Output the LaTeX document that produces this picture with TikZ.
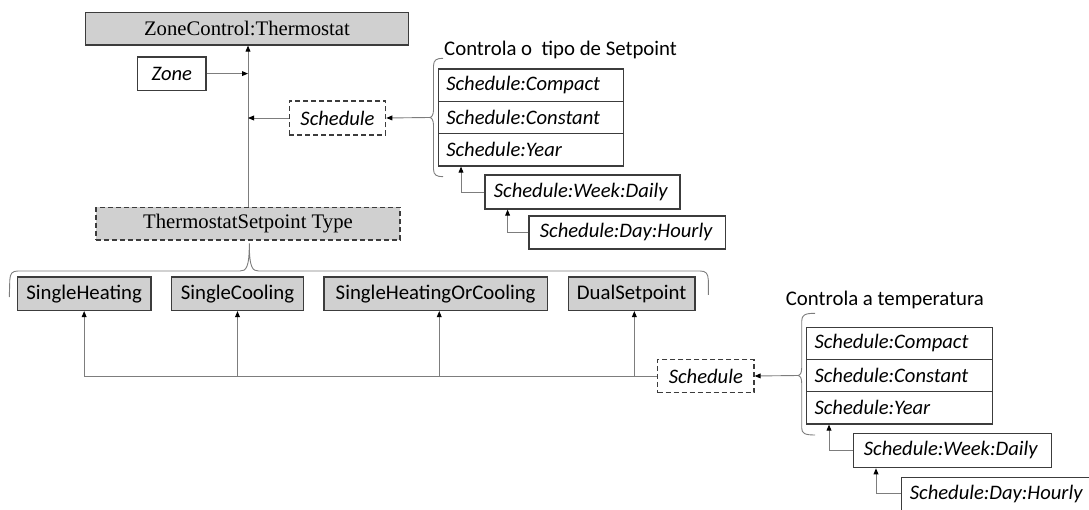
\documentclass[tikz,border=0pt]{standalone}
\usepackage{fontspec}
\setmainfont{Carlito}
\newfontfamily\serifface{Liberation Serif}
\usetikzlibrary{arrows.meta}
\definecolor{boxfill}{RGB}{208,208,208}
\definecolor{edge}{RGB}{60,60,60}
\definecolor{wire}{RGB}{125,125,125}

\begin{document}
\begin{tikzpicture}[x=1pt,y=-1pt,
  txt/.style={font=\fontsize{20.8}{24}\selectfont},
  base/.style={txt, draw=edge, line width=1.2pt, inner sep=0pt, text=black},
  graybox/.style={base, fill=boxfill},
  whitebox/.style={base, fill=white},
  dashbox/.style={dash pattern=on 5pt off 3pt},
  serifbox/.style={font=\serifface\fontsize{20.7}{24}\selectfont},
  itbox/.style={whitebox, font=\fontsize{20.6}{24}\selectfont\itshape},
  rowbox/.style={itbox, anchor=west, align=left},
  conn/.style={draw=wire, line width=0.9pt, -{Triangle[length=6pt,width=4.8pt,color=black]}},
  brace/.style={draw=wire, line width=0.9pt}
]
\useasboundingbox (0,0) rectangle (1089,510);

% top: thermostat object and its inputs
\node[graybox, serifbox, minimum width=322.6pt, minimum height=32.7pt] (zc) at (247,28.65) {ZoneControl:Thermostat};
\node[itbox, minimum width=68.3pt, minimum height=33.3pt] (zone) at (171.85,73.6) {Zone};
\node[itbox, dashbox, minimum width=96.4pt, minimum height=34pt] (sch1) at (337.5,118) {Schedule};

% setpoint type and its four options
\node[graybox, serifbox, dashbox, minimum width=304pt, minimum height=32.7pt] (tst) at (248,223.65) {ThermostatSetpoint Type};
\node[graybox, minimum width=133.7pt, minimum height=33.5pt] (sh) at (84.15,293.75) {SingleHeating};
\node[graybox, minimum width=131.6pt, minimum height=33.5pt] (sc) at (237.5,293.75) {SingleCooling};
\node[graybox, minimum width=223.3pt, minimum height=33.5pt] (shoc) at (435.65,293.75) {SingleHeatingOrCooling};
\node[graybox, minimum width=126.7pt, minimum height=33.5pt] (dual) at (631.65,293.75) {DualSetpoint};

% schedule list controlling the setpoint type
\node[txt, anchor=base west, inner sep=0pt] (lbl1) at (444,56) {Controla o\ \ tipo de Setpoint};
\node[rowbox, text width=169pt, inner xsep=8pt, minimum height=32.33pt] (st1a) at (437.7,85.17) {Schedule:Compact};
\node[rowbox, text width=169pt, inner xsep=8pt, minimum height=32.33pt] (st1b) at (437.7,117.5) {Schedule:Constant};
\node[rowbox, text width=169pt, inner xsep=8pt, minimum height=32.33pt] (st1c) at (437.7,149.83) {Schedule:Year};
\node[rowbox, text width=177pt, inner xsep=9pt, minimum height=34pt] (wk1) at (484.3,192) {Schedule:Week:Daily};
\node[rowbox, text width=174.7pt, inner xsep=11pt, minimum height=33pt] (dy1) at (528.3,232.5) {Schedule:Day:Hourly};

% schedule list controlling the temperature
\node[txt, anchor=base west, inner sep=0pt] (lbl2) at (785.7,306) {Controla a temperatura};
\node[rowbox, text width=169.7pt, inner xsep=8pt, minimum height=32.23pt] (st2a) at (806,343.42) {Schedule:Compact};
\node[rowbox, text width=169.7pt, inner xsep=8pt, minimum height=32.23pt] (st2b) at (806,375.65) {Schedule:Constant};
\node[rowbox, text width=169.7pt, inner xsep=8pt, minimum height=32.23pt] (st2c) at (806,407.88) {Schedule:Year};
\node[rowbox, text width=177.1pt, inner xsep=10.6pt, minimum height=34.4pt] (wk2) at (852.7,450.5) {Schedule:Week:Daily};
\node[rowbox, text width=182.4pt, inner xsep=8.3pt, minimum height=33.2pt] (dy2) at (901,493.9) {Schedule:Day:Hourly};
\node[itbox, dashbox, minimum width=96.3pt, minimum height=33pt] (sch2) at (705.85,376) {Schedule};

% braces
\coordinate (b1) at (429.5,117.5);
\draw[brace] (443,58.3) .. controls (436.5,58.3) and (433.5,60) .. (433.5,66) -- (433.5,110)
  .. controls (433.5,115) and (431.5,117.5) .. (b1)
  .. controls (431.5,117.5) and (433.5,120) .. (433.5,125) -- (433.5,169)
  .. controls (433.5,175) and (436.5,176.7) .. (443,176.7);
\coordinate (b2) at (798.5,375.5);
\draw[brace] (815,313.3) .. controls (805,313.3) and (801.7,315) .. (801.7,321) -- (801.7,368)
  .. controls (801.7,373) and (800,375.5) .. (b2)
  .. controls (800,375.5) and (801.7,378) .. (801.7,383) -- (801.7,428)
  .. controls (801.7,433.5) and (805,435) .. (815,435);
\coordinate (b3) at (249.3,243.5);
\draw[brace] (9.3,297) -- (9.8,280) .. controls (10.2,273.5) and (12,271) .. (18,271) -- (240,271)
  .. controls (246,271) and (249.3,268) .. (b3)
  .. controls (249.3,268) and (252.6,271) .. (258.6,271) -- (700,271)
  .. controls (706,271) and (708,273.5) .. (708.3,280) -- (708.3,295);

% connectors, top part
\draw[conn] (tst.north) -- (tst.north |- zc.south);
\draw[conn] (zone.east) -- (zone.east -| tst.north);
\draw[conn] (sch1.west) -- (sch1.west -| tst.north);
\draw[conn] (b1) -- (sch1.east);
\draw[conn] (wk1.west) -| ([xshift=23.3pt]st1c.south west);
\draw[conn] (dy1.west) -| ([xshift=23.3pt]wk1.south west);

% connectors, bottom part
\coordinate (shocin) at ([xshift=3.6pt]shoc.south);
\coordinate (dualin) at ([xshift=2.7pt]dual.south);
\draw[conn] (sch2.west) -| (sh.south);
\draw[conn] (sc.south |- sch2.west) -- (sc.south);
\draw[conn] (shocin |- sch2.west) -- (shocin);
\draw[conn] (dualin |- sch2.west) -- (dualin);
\draw[conn] (b2) -- (sch2.east);
\draw[conn] (wk2.west) -| ([xshift=23pt]st2c.south west);
\draw[conn] (dy2.west) -| ([xshift=23.3pt]wk2.south west);
\end{tikzpicture}
\end{document}
